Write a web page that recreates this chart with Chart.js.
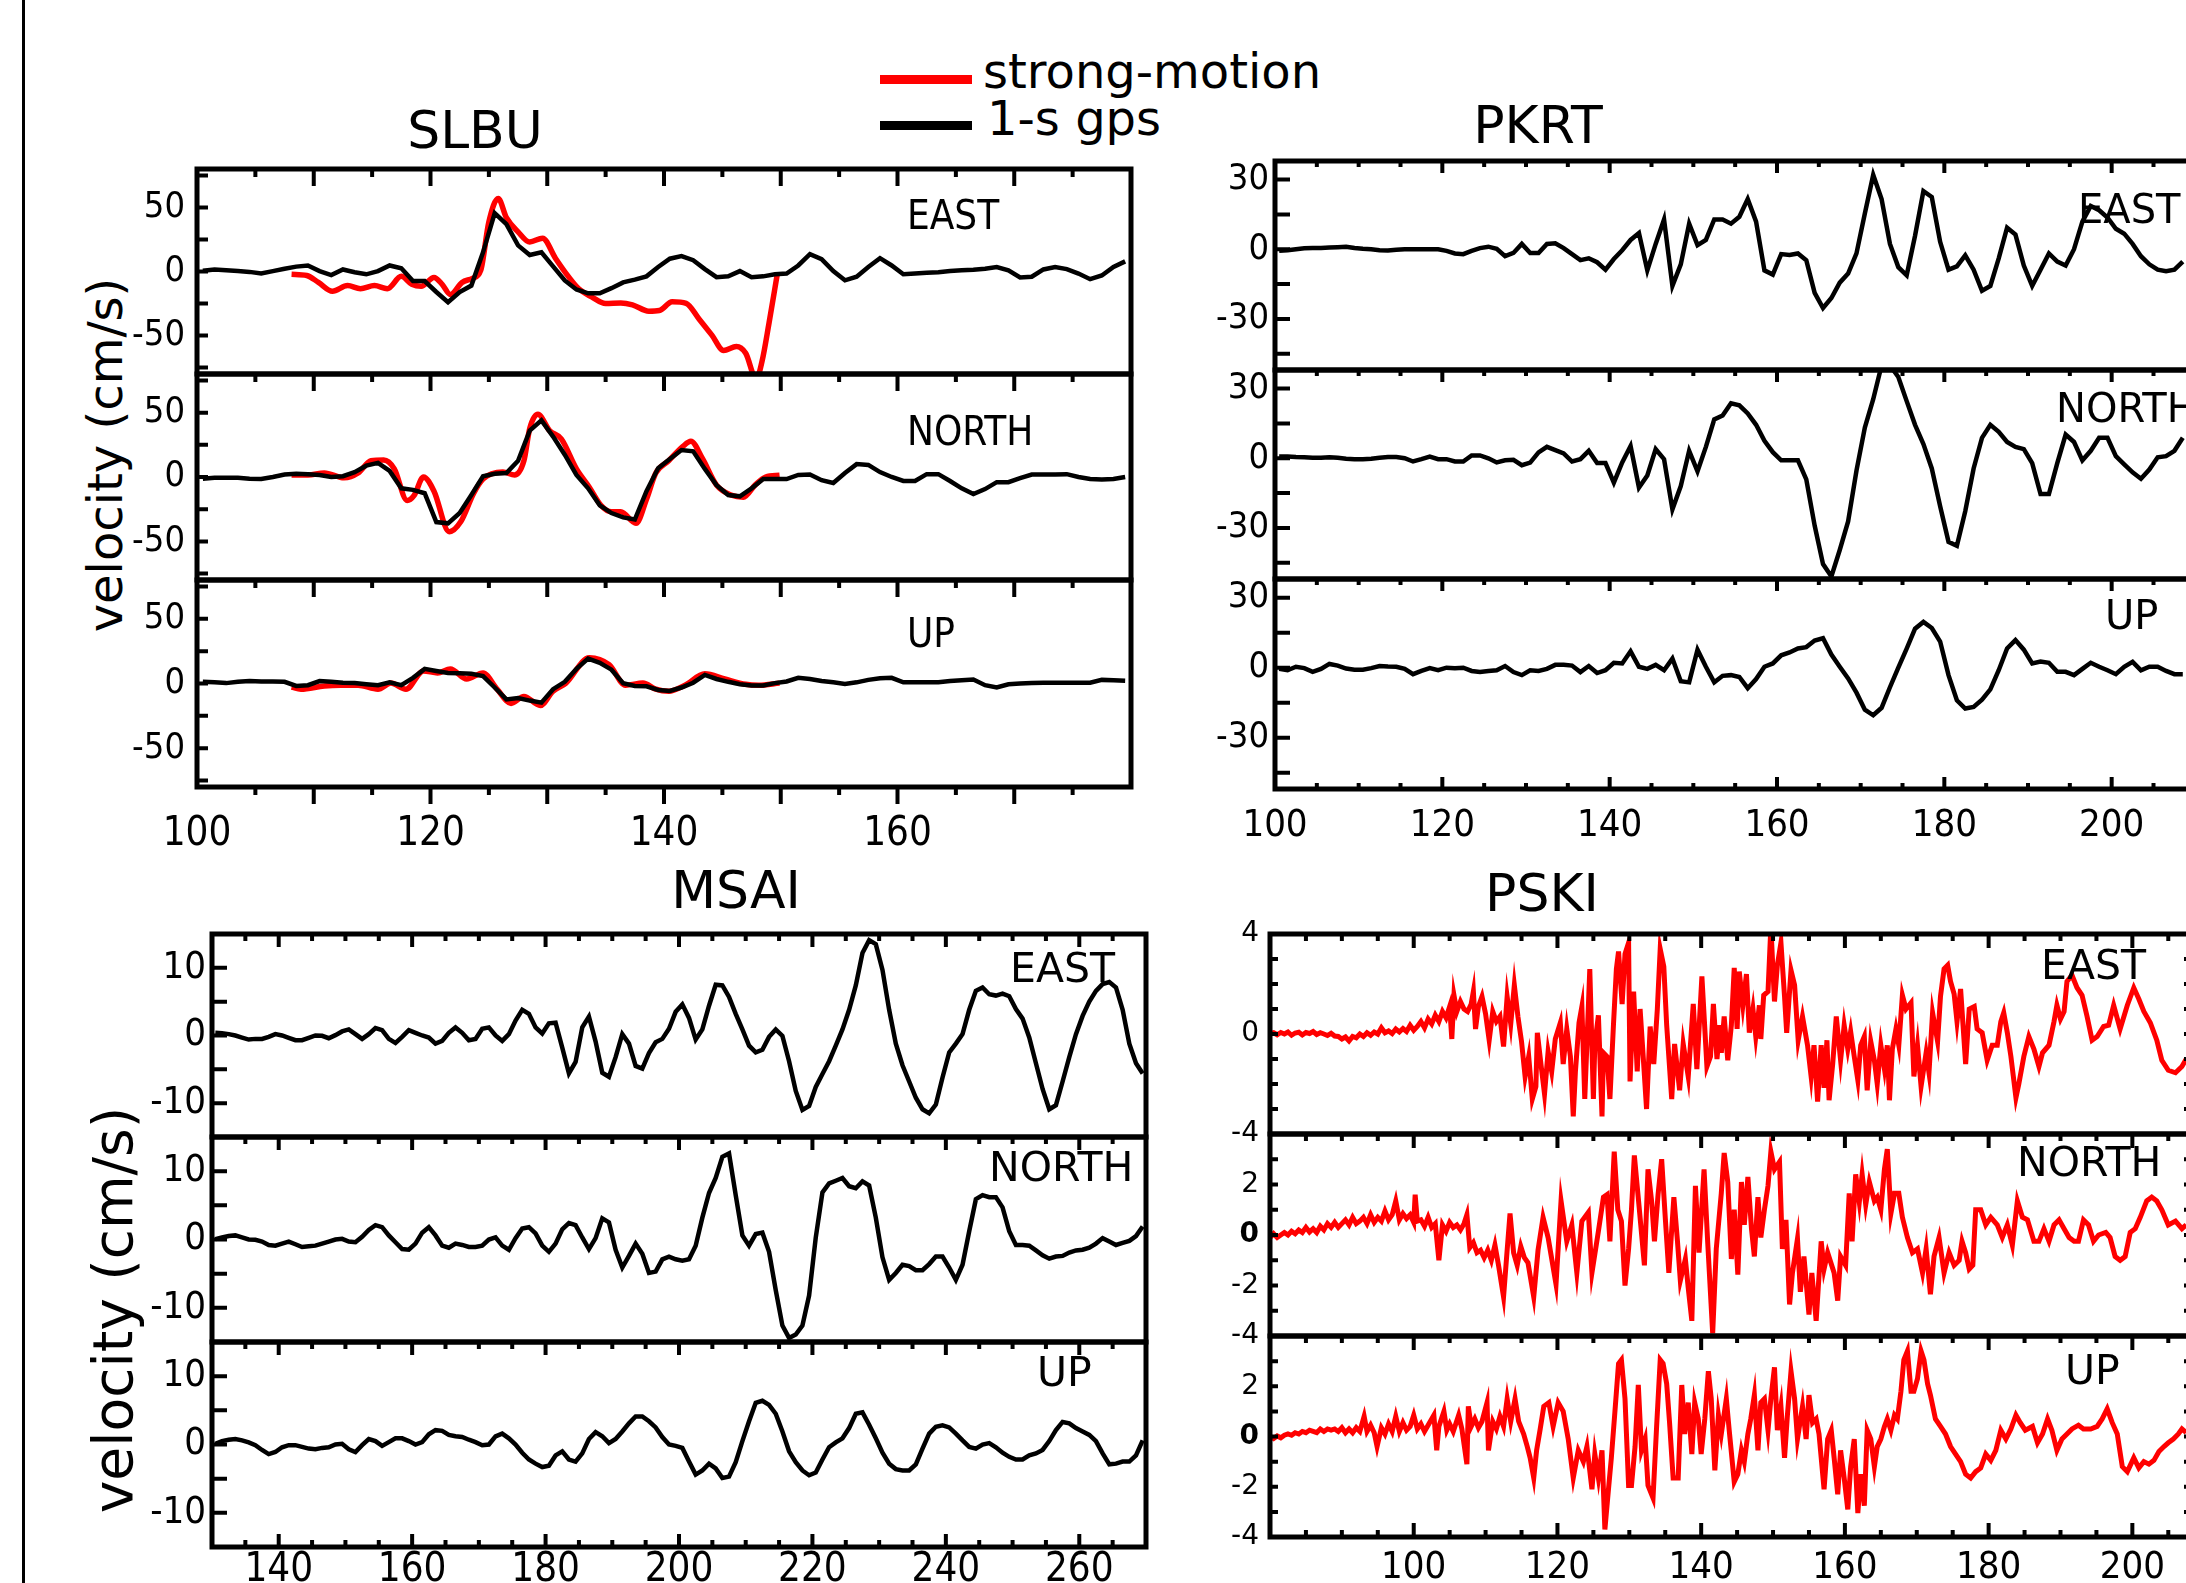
<!DOCTYPE html>
<html>
<head>
<meta charset="utf-8">
<title>1-s GPS vs strong-motion velocity</title>
<script src="https://cdn.jsdelivr.net/npm/chart.js@4.4.1/dist/chart.umd.min.js"></script>
<style>
  html, body { margin: 0; padding: 0; background: #fff; overflow: hidden; }
  #page { position: relative; width: 2186px; height: 1583px; overflow: hidden; background: #fff; }
  #page canvas { position: absolute; }
  .lbl { position: absolute; white-space: nowrap; color: #000; line-height: 1; font-family: "DejaVu Sans", sans-serif; }
  .key { position: absolute; height: 9px; }
</style>
</head>
<body>
<div id="page">
  <div style="position:absolute;left:22px;top:0;width:3px;height:1583px;background:#000"></div>
  <div class="key" style="left:880px;top:75px;width:92px;background:#ff0000"></div>
  <div class="key" style="left:880px;top:121px;width:92px;background:#000"></div>
  <div class="lbl" style="left:983px;top:71px;font-size:48px;transform:translateY(-50%)">strong-motion</div>
  <div class="lbl" style="left:987px;top:118px;font-size:48px;transform:translateY(-50%)">1-s gps</div>
  <div class="lbl" style="left:105px;top:455px;font-size:48px;transform:translate(-50%,-50%) rotate(-90deg)">velocity (cm/s)</div>
  <div class="lbl" style="left:113px;top:1310px;font-size:55px;transform:translate(-50%,-50%) rotate(-90deg)">velocity (cm/s)</div>
</div>
<script>
// ---------- data ----------
const components = ['EAST', 'NORTH', 'UP'];

// SLBU: 1-s GPS, first sample at 100.5 s
const slbuGpsT0 = 100.5;
const slbuGpsEast = [0.6, 1.6, 0.9, 0.3, -0.3, -1.6, 0.3, 2.2, 3.8, 4.7,
  0.3, -2.8, 1.6, -0.6, -2.2, 0.3, 4.7, 2.5, -7.5, -7.5,
  -16, -24, -16, -11, 15, 45.6, 37, 20.4, 12.9, 15,
  4, -7, -14, -17, -17, -13, -8.5, -6.3, -3.8, 3.5,
  10, 12, 8.8, 1.9, -4.4, -3.8, 0.3, -4.4, -3.8, -2.2,
  -1.6, 4.7, 13.5, 9.7, 0.3, -6.9, -4.1, 3.5, 10.4, 4.7,
  -2.2, -1.6, -0.9, -0.6, 0.3, 0.9, 1.3, 2.2, 3.5, 0.9,
  -4.7, -4.1, 1.6, 3.5, 1.9, -1.6, -6, -3.1, 3.5, 7.9];
const slbuGpsNorth = [-1.3, -0.6, -0.6, -0.6, -1.3, -1.6, 0, 1.9, 2.5, 2.2,
  1.6, 0, 0.6, 3.8, 8.8, 11, 4.7, -8.8, -10, -12.6,
  -35, -36, -28, -14, 0.6, 2.5, 3.1, 12.6, 36, 44,
  31.4, 17.3, 1.6, -8.8, -22, -28, -31.4, -33, -11, 6.9,
  14, 21, 20, 6.3, -6.3, -14, -15, -8.8, -1.6, -1.6,
  -1.6, 1.6, 1.9, -2.5, -4.7, 3.1, 10, 9.4, 3.8, 0,
  -3.1, -3.1, 2.2, 2.2, -3.1, -8.8, -13.2, -9.4, -4, -4,
  -0.9, 1.9, 1.9, 1.9, 2.2, 0, -1.6, -1.9, -1.6, 0];
const slbuGpsUp = [1.3, 0.9, 0.3, 1.3, 1.9, 1.6, 1.6, 1.3, -1.9, -1.3,
  1.9, 1.3, 0.6, 0.3, -0.6, -1.3, 0.9, -1.3, 4.4, 11.3,
  9.7, 8.2, 7.9, 7.5, 5.7, -3.1, -12.3, -11.3, -13.2, -14.8,
  -4.4, 1.3, 11.3, 19.2, 16, 10.7, 0.3, -1.9, -2.2, -5,
  -5.7, -3.1, 0.6, 6.6, 3.5, 1.3, -0.6, -1.6, -1.6, 0.3,
  1.6, 4.4, 3.5, 1.9, 0.9, -0.3, 0.9, 2.8, 4.1, 4.4,
  0.9, 0.9, 0.9, 0.9, 1.9, 2.5, 3.1, -1.3, -3.1, -0.6,
  0, 0.3, 0.6, 0.6, 0.6, 0.6, 0.6, 2.8, 2.5, 2.2];

// SLBU strong-motion: [time, velocity]
const slbuSmEast = [[108.1, -2.2], [109.4, -3.1], [110.4, -8.5], [111.6, -15.4], [112.9, -11], [114.0, -13.5],
  [115.2, -11], [116.3, -13.5], [117.5, -3.8], [118.4, -10], [119.2, -11.6], [120.3, -4.7], [121.0, -10],
  [121.7, -17.9], [122.7, -8.5], [123.6, -5.3], [124.3, 0.9], [125.0, 38.7], [125.8, 57], [126.5, 42],
  [127.5, 31], [128.5, 23], [129.6, 26], [130.7, 10.4], [131.8, -3.8], [132.7, -13.5], [133.8, -19.8],
  [135.0, -25], [136.3, -24.5], [137.3, -26], [138.7, -31], [139.6, -30.5], [140.7, -23.6], [141.9, -24.8],
  [143.0, -37], [144.1, -49.7], [145.1, -61.6], [146.2, -58.5], [147.0, -63.8], [147.9, -84], [148.4, -70],
  [149.0, -40], [149.7, -2.2]];
const slbuSmNorth = [[108.1, 1.6], [109.5, 1.6], [110.9, 3.1], [112.6, -0.6], [113.8, 3.1], [114.9, 12.6],
  [116.0, 13.2], [116.9, 6.3], [118.0, -18.2], [118.6, -14.2], [119.4, 0], [120.3, -11], [121.6, -42.5],
  [122.6, -34.6], [123.7, -12.6], [124.5, -1.6], [126.2, 3.8], [127.2, 1.6], [128.0, 12.6], [128.5, 37.7],
  [129.2, 48.7], [130.2, 36], [131.2, 29.6], [132.5, 6.3], [133.6, -7.9], [134.6, -22], [135.5, -27],
  [136.3, -27], [137.6, -36], [138.5, -17.3], [139.3, 3.1], [140.4, 12.6], [141.6, 23.6], [142.3, 27.7],
  [143.3, 14.2], [144.5, -6.3], [145.8, -14.2], [146.8, -15.7], [147.8, -6.3], [148.7, 0], [149.9, 1.3]];
const slbuSmUp = [[108.1, -2.8], [108.9, -4.4], [110.9, -1.9], [112.3, -1.3], [113.8, -1.3], [115.5, -4.4],
  [116.6, 0.3], [117.9, -4.4], [119.4, 9.7], [120.6, 8.2], [121.7, 11.3], [123.1, 3.5], [124.5, 8.2],
  [125.7, -4.4], [126.9, -15.4], [128.0, -10], [129.4, -17], [130.5, -6], [131.6, 0.3], [133.6, 20],
  [135.3, 14.5], [136.7, -1.3], [138.2, 0.3], [139.3, -4.4], [140.4, -6], [141.8, -1.3], [143.5, 7.5],
  [145.2, 3.5], [147.0, -0.6], [148.1, -1.3], [149.9, 0.3]];

// PKRT: 1-s GPS, first sample at 100.5 s
const pkrtT0 = 100.5;
const pkrtEast = [-0.7, -0.4, 0, 0.4, 0.5, 0.5, 0.7, 0.9, 1.1, 0.5,
  0.2, 0, -0.4, -0.5, -0.2, 0, 0, 0, 0, 0,
  -0.7, -1.8, -2.1, -0.7, 0.5, 1.1, 0.2, -3, -1.6, 2.3,
  -1.6, -1.6, 2.3, 2.6, 0.5, -2.1, -4.7, -3.9, -5.6, -8.8,
  -4.2, -0.4, 4, 7, -9.1, 2.3, 12.8, -15.8, -6.5, 11,
  1.8, 4, 12.8, 12.8,
  11, 14, 21.6, 11.9, -9.1, -10.9, -2.1, -2.5, -1.8, -4.7,
  -18.8, -25.3, -21, -14.4, -10.5, -1.8, 15.4, 32, 21.6, 2.3,
  -7.7, -11.2, 5.8, 25, 22.5, 3.2, -8.8, -7.4, -2.6, -8.8,
  -17.9, -15.8, -3.9, 9.3, 6.3, -7, -15.8, -8.8, -1.8, -5.3,
  -7, 0, 11.9, 18.6, 16.8, 13.7, 8.8, 6.7, 2.3, -3,
  -6.5, -8.8, -9.5, -8.8, -5.3];
const pkrtNorth = [0.7, 0.7, 0.5, 0.4, 0.2, 0.2, 0.4, 0.2, -0.2, -0.4,
  -0.4, -0.2, 0.2, 0.5, 0.5, 0, -1.4, -0.4, 0.7, -0.4,
  -0.4, -1.4, -1.4, 1.2, 1.2, 0, -1.8, -0.9, -0.7, -3,
  -1.9, 2.5, 4.9, 3.5, 2.1, -1.4, -0.4, 3.2, -2.1, -2.1,
  -10.5, -1.8, 5.3, -12.6, -7.4, 3.9, -0.4, -22, -12, 3.2,
  -5.6, 4.9, 16.7, 18.4,
  23.7, 22.8, 19.3, 14.4, 7.5, 2.6, -0.9, -0.9, -0.9, -9.1,
  -29, -45.6, -50.9, -39.5, -27.2, -5.3, 13.2, 25.4, 40, 40,
  35, 24.6, 14.4, 6.1, -4.4, -20.7, -36, -37.7, -22.8, -4.4,
  8.8, 14.4, 11.4, 7, 4.9, 3.9, -2.1, -15.4, -15.4, -2.1,
  10.2, 7, -0.9, 3.2, 8.8, 8.8, 0.9, -2.6, -6.1, -8.8,
  -4.9, 0.4, 0.9, 3.2, 8.8];
const pkrtUp = [-0.5, -1.1, 0.4, -0.2, -1.8, -0.5, 1.6, 0.9, -0.4, -0.9,
  -0.9, -0.2, 0.7, 0.5, 0.4, -0.5, -2.8, -1.4, -0.2, -1.1,
  0, -0.2, 0, -1.4, -1.8, -1.4, -1.1, 0.7, -1.9, -3.2,
  -1.1, -1.4, -0.5, 1.2, 1.2, 0.9, -1.9, 0.7, -2.3, -1.1,
  2.1, 1.8, 7, 0.4, -0.5, 1.2, -1.1, 3.9, -5.8, -6.3,
  7.7, 0.4, -6.3, -3.5,
  -3.2, -4, -8.8, -4.9, 0.4, 1.8, 5.3, 6.5, 8.2, 8.8,
  11.6, 12.6, 5.6, 0.4, -4.6, -10.7, -18, -20.4, -17.2, -8.4,
  0, 8.2, 16.7, 19.6, 17, 11.2, -3.2, -14, -17.5, -16.8,
  -13.7, -9.3, -1.1, 8.2, 11.8, 7.7, 1.8, 2.6, 2.1, -1.8,
  -1.8, -3.2, -0.5, 2.1, 0.4, -1.1, -2.8, 0.4, 2.5, -1.1,
  0.4, 0.4, -1.4, -2.8, -2.8];

// MSAI: 1-s GPS, first sample at 130.5 s
const msaiT0 = 130.5;
const msaiEast = [0.4, 0.35, 0.2, 0, -0.3, -0.6, -0.5, -0.5, -0.2, 0.2,
  0, -0.35, -0.7, -0.7, -0.35, 0, -0.05, -0.4, 0.05, 0.6,
  0.9, 0.2, -0.5, 0.2, 1.1, 0.8, -0.5, -1.1, -0.2, 0.8,
  0.4, 0, -0.3, -1.2, -0.8, 0.4, 1.2, 0.4, -0.7, -0.5,
  1, 1.2, 0, -0.8, 0.2, 2.2, 3.8, 3.2, 1.2, 0.3,
  1.8, 1.9, -1.8, -5.6, -3.9, 1.2, 2.8, -0.9, -5.5, -6.1,
  -3.2, 0.2, -1.2, -4.5, -4.9, -2.6, -1, -0.5, 1, 3.5,
  4.6, 2.6, -0.6, 0.9, 4.4, 7.5, 7.4, 5.7, 3.2, 0.9,
  -1.5, -2.5, -2.1, -0.2, 0.9, -0.05, -3.8, -8.2, -11, -10.4,
  -7.6, -5.7, -3.8, -1.5, 0.9, 3.8, 7.4, 12.2, 14.1, 13.5,
  9.7, 3.8, -1.2, -4.4, -6.8, -9.2, -10.9, -11.5, -10.2, -6.2,
  -2.5, -1.2, 0.2, 3.8, 6.6, 7.1, 6.1, 5.9, 6.2, 5.8,
  3.9, 2.5, -0.3, -4.1, -7.9, -10.9, -10.3, -6.8, -3.2, 0.2,
  2.9, 5, 6.6, 7.6, 7.9, 7.1, 3.8, -1.2, -4.1, -5.6];
const msaiNorth = [0.05, 0.3, 0.5, 0.6, 0.3, 0, -0.05, -0.3, -0.8, -0.9,
  -0.6, -0.3, -0.7, -1.1, -1, -0.9, -0.6, -0.3, 0, 0.1,
  -0.3, -0.4, 0.4, 1.4, 2.1, 1.8, 0.6, -0.4, -1.4, -1.5,
  -0.6, 1, 1.8, 0.6, -0.9, -1.2, -0.6, -0.8, -1.1, -1.1,
  -0.9, 0, 0.3, -0.9, -1.5, 0.2, 1.6, 1.8, 0.9, -0.9,
  -1.8, -0.6, 1.5, 2.4, 2.1, 0.3, -1.4, 0.2, 3.1, 2.5,
  -1.5, -4.1, -2.4, -0.6, -2.1, -4.9, -4.7, -2.9, -2.5, -2.9,
  -3.1, -2.9, -0.9, 3.2, 6.8, 9, 12.1, 12.6, 6.5, 0.6,
  -0.9, 0.8, 1, -1.8, -7.4, -12.6, -14.4, -13.9, -12.6, -8.2,
  0.3, 6.9, 8.2, 8.6, 9, 7.8, 7.5, 8.5, 7.9, 3.2,
  -2.6, -5.9, -4.9, -3.7, -3.9, -4.5, -4.5, -3.6, -2.5, -2.5,
  -4.1, -5.9, -3.7, 1.2, 5.9, 6.5, 6.2, 6.2, 4.7, 1.2,
  -0.8, -0.8, -0.9, -1.6, -2.3, -2.8, -2.5, -2.4, -1.9, -1.6,
  -1.5, -1.2, -0.6, 0.2, -0.3, -0.8, -0.5, -0.2, 0.5, 1.9];
const msaiUp = [0.1, 0.5, 0.7, 0.8, 0.6, 0.3, -0.1, -0.8, -1.4, -1.1,
  -0.4, -0.1, -0.1, -0.35, -0.6, -0.7, -0.5, -0.4, 0, 0.1,
  -0.7, -1.1, -0.1, 0.8, 0.5, -0.2, 0.35, 0.9, 0.9, 0.5,
  0, 0.35, 1.5, 2.1, 2, 1.4, 1.2, 1.1, 0.7, 0.35,
  -0.1, 0, 1.2, 1.6, 0.9, 0, -1.2, -2.2, -2.8, -3.3,
  -3.1, -1.6, -1, -2.2, -2.5, -1.3, 0.8, 1.8, 1.2, 0.2,
  0.8, 1.9, 3.1, 4.1, 4.1, 3.4, 2.5, 1.1, 0, -0.2,
  -0.5, -2.5, -4.4, -3.8, -2.8, -3.5, -4.9, -4.7, -2.6, 0.5,
  3.4, 6.1, 6.4, 5.8, 4.5, 1.9, -1, -2.6, -3.8, -4.5,
  -4.1, -2.2, -0.4, 0.3, 0.9, 2.4, 4.5, 4.7, 2.9, 0.9,
  -1.2, -2.8, -3.6, -3.8, -3.8, -2.9, -0.6, 1.6, 2.6, 2.8,
  2.5, 1.6, 0.6, -0.35, -0.6, 0, 0.2, -0.4, -1.2, -1.8,
  -2.2, -2.2, -1.6, -1.3, -0.8, 0.5, 2.1, 3.3, 3.1, 2.4,
  1.9, 1.4, 0.5, -1.3, -2.9, -2.8, -2.5, -2.5, -1.6, 0.6];

// PSKI strong-motion: [time, velocity]
const pskiEast = [[80, 0.02], [80.5, 0.05], [81, -0.03], [81.5, 0.06], [82, 0], [82.5, 0.08], [83, -0.05],
  [83.5, 0.04], [84, 0.07], [84.5, -0.04], [85, 0.06], [85.5, 0.02], [86, 0.1], [86.5, -0.02], [87, 0.05],
  [87.5, 0], [88, -0.06], [88.5, 0.03], [89, -0.08], [89.5, -0.1], [90, -0.2], [90.5, -0.12], [91, -0.28],
  [91.5, -0.1], [92, -0.15], [92.5, 0], [93, -0.1], [93.5, 0.05], [94, -0.05], [94.5, 0.08], [95, 0],
  [95.5, 0.25], [96, 0.05], [96.5, 0.12], [97, 0.02], [97.5, 0.2], [98, 0.08], [98.5, 0.22], [99, 0.1],
  [99.5, 0.35], [100, 0.15], [100.5, 0.3], [101, 0.5], [101.5, 0.25], [102, 0.6], [102.5, 0.4], [103, 0.75],
  [103.5, 0.5], [104, 0.9], [104.5, 0.65], [105, 1.1], [105.3, -0.2], [105.6, 1.55], [106, 0.9], [106.5, 1.3],
  [107, 1.0], [107.5, 0.9], [108, 1.2], [108.3, 1.7], [108.6, 0.2], [109, 1.1], [109.5, 1.5], [110, 0.8],
  [110.5, -0.25], [111, 0.9], [111.5, 0.5], [112, 0.7], [112.5, -0.5], [113, 1.5], [113.5, 0.4], [114, 1.95],
  [114.5, 0.7], [115, -0.3], [115.5, -1.7], [116, -0.9], [116.5, -2.6], [117, -2.1], [117.2, 0.05],
  [117.7, -1.2], [118.2, -2.4], [118.7, -0.7], [119.2, -1.5], [119.7, -0.2], [120.4, 0.45], [120.8, -1.2],
  [121.3, 0.2], [121.8, -0.9], [122.2, -3.3], [122.5, -1.5], [123, 0.45], [123.4, 1.1], [123.8, -2.6],
  [124.1, -0.4], [124.5, 2.6], [125, -2.6], [125.2, -0.4], [125.7, 0.75], [126.2, -3.3], [126.4, -0.75],
  [126.9, -0.9], [127.3, -2.6], [127.8, 0.4], [128.2, 2.6], [128.5, 3.3], [129, 1.2], [129.4, 3.2],
  [129.9, 3.65], [130.1, -1.9], [130.6, 1.7], [131.1, -1.5], [131.5, 1.0], [132, -1.2], [132.4, -3.0],
  [132.9, 0.3], [133.4, -1.2], [133.9, 1.0], [134.3, 3.4], [134.8, 2.7], [135.2, 0.35], [135.9, -2.6],
  [136.3, -0.4], [137, -2.25], [137.5, -0.4], [138.2, -1.7], [138.9, 1.2], [139.4, -1.4], [140.1, 2.3],
  [140.8, -1.3], [141.3, -0.9], [141.7, 1.2], [142.2, -1.0], [142.6, 0.35], [142.8, -0.75], [143.2, 0.7],
  [143.7, -1.05], [144.2, 0.35], [144.6, 2.65], [145.0, 0.2], [145.3, 2.5], [145.8, 1.15], [146.3, 2.4],
  [146.7, 0.05], [147.2, 1.0], [147.6, -0.1], [148.1, 1.15], [148.3, -0.2], [148.7, 1.55], [149.3, 1.7],
  [149.7, 4.3], [150.2, 1.3], [150.6, 2.75], [151.1, 3.65], [151.6, 1.5], [151.9, 0.05], [152.5, 2.55],
  [153.0, 1.95], [153.5, -0.25], [154.1, 0.7], [154.8, -0.45], [155.3, -1.7], [155.7, -0.45], [156.2, -2.7],
  [156.7, -0.45], [157.1, -2.15], [157.5, -0.25], [157.8, -2.65], [158.3, -1.2], [158.8, 0.7], [159.4, -1.05],
  [159.9, 0.35], [160.4, -0.6], [160.8, 0.1], [161.3, -0.9], [161.8, -1.85], [162.2, -0.45], [162.7, -0.1],
  [163.1, -2.25], [163.6, -0.3], [164.1, -1.05], [164.5, -2.0], [165.0, -0.45], [165.5, -1.4], [165.9, -0.45],
  [166.2, -2.65], [166.6, -0.6], [167.1, 0.2], [167.5, -0.45], [168.0, 1.55], [168.5, 1.0], [169.2, 1.25],
  [169.6, -1.7], [170.1, -0.45], [170.6, -2.1], [171.3, -0.75], [171.7, -1.55], [172.2, 0.85], [172.9, -0.3],
  [173.3, 1.5], [173.8, 2.6], [174.3, 2.75], [174.7, 2.1], [175.2, 1.6], [175.6, 0.5], [176.1, 1.8],
  [176.8, -1.2], [177.3, 1.0], [178.0, 1.1], [178.4, 0.2], [179.1, 0.05], [179.8, -1.05], [180.5, -0.45],
  [181.2, -0.45], [181.7, 0.5], [182.1, 0.85], [182.6, 0.05], [183.1, -0.9], [183.8, -2.55], [184.2, -2.0],
  [184.9, -0.9], [185.6, -0.1], [186.3, -0.6], [187.0, -1.3], [187.5, -0.75], [188.4, -0.45], [189.1, 0.5],
  [189.5, 1.15], [190.0, 0.6], [190.5, 0.9], [190.9, 2.1], [191.6, 2.35], [192.3, 1.85], [193.0, 1.55],
  [193.7, 0.7], [194.4, -0.25], [195.1, -0.1], [196.0, 0.3], [196.7, 0.35], [197.4, 1.15], [198.3, 0.2],
  [199.3, 1.15], [200.2, 1.85], [200.9, 1.4], [201.6, 0.9], [202.5, 0.45], [203.4, -0.25], [204.1, -1.05],
  [205.0, -1.45], [206.0, -1.55], [206.9, -1.3], [207.5, -1.0]];
const pskiNorth = [[80, -0.1], [80.5, 0.05], [81, -0.1], [81.5, 0], [82, 0.1], [82.5, 0], [83, 0.15],
  [83.5, 0.05], [84, 0.2], [84.5, 0.1], [85, 0.3], [85.5, 0.12], [86, 0.25], [86.5, 0.1], [87, 0.35],
  [87.5, 0.2], [88, 0.45], [88.5, 0.3], [89, 0.5], [89.5, 0.3], [90, 0.45], [90.5, 0.6], [91, 0.4],
  [91.5, 0.7], [92, 0.45], [92.5, 0.55], [93, 0.7], [93.5, 0.45], [94, 0.8], [94.5, 0.5], [95, 0.7],
  [95.5, 0.55], [96, 0.95], [96.5, 0.6], [97, 0.8], [97.5, 1.35], [98, 0.6], [98.5, 0.85], [99, 0.65],
  [99.5, 0.8], [100, 0.5], [100.2, 1.6], [100.5, 0.55], [101, 0.6], [101.5, 0.35], [102, 0.7], [102.5, 0.3],
  [103, 0.45], [103.5, -1.0], [104, 0.4], [104.5, 0.15], [105, 0.5], [105.5, 0.3], [106, 0.4], [106.5, 0.2],
  [107, 0.45], [107.4, 0.8], [107.8, -0.5], [108.3, -0.3], [108.8, -0.7], [109.3, -0.6], [109.8, -0.9],
  [110.3, -0.6], [110.8, -1.0], [111.3, -0.4], [111.8, -1.2], [112.5, -2.45], [113, -0.6], [113.4, 0.85],
  [113.9, -0.7], [114.4, -1.2], [114.9, -0.45], [115.4, -0.9], [115.9, -1.1], [116.7, -2.45], [117.3, -0.6],
  [118.0, 0.7], [118.7, -0.1], [119.8, -1.95], [120.5, 1.35], [121.3, -0.25], [122, 0.4], [122.7, -1.5],
  [123.4, 0.55], [124.3, 0.9], [124.8, -1.5], [125.7, 0.15], [126.4, 1.5], [126.9, 1.6], [127.3, -0.25],
  [127.9, 3.3], [128.4, 1.0], [128.9, 0.55], [129.4, -2.0], [129.9, -0.55], [130.3, 1.0], [130.7, 3.15],
  [131.4, 1.0], [132.1, -1.2], [132.6, 2.6], [133.1, 1.35], [133.5, -0.25], [134, 1.6], [134.5, 3.0],
  [135.0, 0.7], [135.5, -1.5], [136.2, 1.5], [136.7, -0.25], [137.1, -1.8], [137.8, -0.95], [138.2, -2.1],
  [138.7, -3.4], [139.2, 1.95], [139.7, -0.7], [140.4, 2.6], [140.9, -0.25], [141.6, -3.9], [142.1, -0.55],
  [142.8, 1.65], [143.2, 3.25], [143.7, 2.1], [144.2, -0.95], [144.6, 1.0], [145.1, -1.57], [145.6, 2.1],
  [146.0, 0.4], [146.5, 2.3], [147.0, 0.25], [147.4, -0.85], [147.9, 1.5], [148.3, -0.1], [148.8, 1.0],
  [149.3, 1.95], [149.7, 3.3], [150.2, 2.6], [150.9, 2.9], [151.3, -0.55], [151.8, 0.6], [152.3, -2.75],
  [152.7, -1.5], [153.4, -0.15], [153.8, -2.25], [154.3, -0.85], [155.0, -3.15], [155.4, -1.5], [156.0, -3.4],
  [156.7, -0.25], [157.1, -1.35], [157.6, -0.7], [158.5, -1.5], [159.0, -2.6], [159.4, -0.85], [160.1, -1.2],
  [160.6, 1.65], [161.0, -0.25], [161.5, 2.4], [162.0, 1.3], [162.4, 2.4], [162.9, 1.2], [163.4, 2.1],
  [164.1, 1.35], [164.5, 1.5], [165.0, 1.0], [165.5, 2.6], [165.9, 3.4], [166.4, 0.85], [166.9, 1.65],
  [167.5, 1.65], [168.0, 0.7], [168.7, -0.1], [169.4, -0.7], [170.1, -0.55], [170.8, -1.5], [171.3, -0.55],
  [171.9, -2.35], [172.4, -0.85], [173.1, -0.1], [173.8, -1.5], [174.5, -0.7], [175.2, -1.2], [175.9, -1.0],
  [176.3, -0.25], [176.8, -0.7], [177.3, -1.35], [177.8, -1.2], [178.2, 1.0], [178.9, 1.0], [179.6, 0.4],
  [180.3, 0.7], [181.2, 0.4], [181.9, -0.1], [182.6, 0.4], [183.3, -0.4], [184.0, 1.35], [184.7, 0.7],
  [185.4, 0.6], [186.3, -0.25], [187.0, -0.25], [187.7, 0.25], [188.4, -0.25], [189.1, 0.4], [189.8, 0.6],
  [190.5, 0.25], [191.2, -0.1], [191.9, -0.25], [192.5, -0.25], [193.2, 0.6], [193.9, 0.4], [194.6, -0.25],
  [195.3, 0], [196.3, 0.1], [196.9, -0.1], [197.6, -0.85], [198.3, -1.0], [199.0, -0.85], [199.7, 0.1],
  [200.4, 0.25], [201.1, 0.7], [202.0, 1.35], [202.7, 1.5], [203.4, 1.35], [204.1, 1.0], [205.0, 0.4],
  [206.0, 0.55], [206.9, 0.25], [207.5, 0.4]];
const pskiUp = [[80, 0], [80.5, -0.08], [81, 0.02], [81.5, -0.05], [82, 0.05], [82.5, 0.1], [83, 0.05],
  [83.5, 0.15], [84, 0.1], [84.5, 0.2], [85, 0.15], [85.5, 0.25], [86, 0.2], [86.5, 0.15], [87, 0.3],
  [87.5, 0.2], [88, 0.3], [88.5, 0.25], [89, 0.3], [89.5, 0.2], [90, 0.35], [90.5, 0.15], [91, 0.3],
  [91.5, 0.15], [92, 0.35], [92.5, 0.2], [93.1, 0.8], [93.5, 0.2], [94, 0.45], [94.5, 0.15], [94.9, -0.4],
  [95.5, 0.35], [96, 0.1], [96.5, 0.5], [97, 0.2], [97.5, 0.8], [98, 0.2], [98.5, 0.55], [99, 0.25],
  [99.5, 0.4], [100, 0.85], [100.5, 0.3], [101, 0.5], [101.5, 0.2], [102, 0.45], [102.8, 0.85], [103.2, -0.55],
  [103.5, 0.4], [104.2, 1.0], [104.6, 0.25], [105, 0.5], [105.5, 0.2], [106.25, 0.85], [106.7, 0.3],
  [107.4, -1.1], [107.6, 1.2], [108, 0.4], [108.5, 0.7], [109, 0.35], [109.5, 0.6], [110.2, 1.35],
  [110.4, -0.55], [111, 0.6], [111.5, 0.3], [112, 0.8], [112.5, 0.4], [113, 1.5], [113.5, 0.6], [114.1, 1.5],
  [114.6, 0.6], [115.3, 0.1], [115.8, -0.4], [116.2, -0.85], [116.7, -1.65], [117.1, -0.55], [117.6, 0.3],
  [118.1, 1.2], [118.8, 1.35], [119.4, 0.4], [120.1, 1.35], [120.8, 1.0], [121.5, -0.1], [122.2, -1.65],
  [122.9, -0.55], [123.6, -1.0], [124.1, -0.4], [124.8, -2.1], [125.2, -0.7], [125.7, -1.65], [126.2, -0.55],
  [126.6, -3.7], [127.1, -2.1], [127.5, -0.85], [128.0, 1.0], [128.5, 2.9], [128.9, 3.05], [129.4, 1.5],
  [129.9, -1.95], [130.3, -1.95], [130.8, -0.4], [131.25, 2.05], [131.7, -0.55], [132.2, -0.1], [132.6, -1.95],
  [133.3, -2.45], [133.8, 0.4], [134.3, 3.05], [134.7, 2.9], [135.2, 2.1], [135.6, 0.55], [136.1, -1.65],
  [136.8, -1.65], [137.3, 2.05], [137.7, 0.1], [138.2, 1.35], [138.7, -0.7], [139.1, 1.35], [139.6, 0.7],
  [140.0, -0.7], [140.5, 0.7], [141.0, 2.6], [141.4, 1.5], [141.9, -1.35], [142.4, 0.85], [142.8, 0.1],
  [143.5, 1.5], [143.9, 0.25], [144.6, -1.8], [145.1, -1.5], [145.6, -0.55], [146.0, -1.0], [146.5, 0.1],
  [146.9, 0.7], [147.4, 1.65], [147.9, -0.55], [148.3, 1.35], [148.8, 1.5], [149.3, 0.25], [149.7, 1.5],
  [150.2, 2.75], [150.6, 0.25], [151.1, 1.2], [151.6, -0.85], [152.0, 0.85], [152.5, 2.6], [153.0, 1.5],
  [153.4, -0.1], [154.1, 1.2], [154.6, -0.1], [155.0, 1.65], [155.5, 0.55], [156.0, 0.7], [156.4, 0.1],
  [157.1, -2.1], [157.6, -0.1], [158.1, 0.25], [158.5, -0.85], [159.0, -2.3], [159.4, -0.55], [159.9, -1.65],
  [160.4, -2.9], [160.8, -1.2], [161.3, -0.1], [161.8, -3.05], [162.2, -1.5], [162.7, -2.75], [163.1, 0.25],
  [163.6, -0.1], [164.1, -1.2], [164.5, -0.4], [165.0, -0.1], [165.5, 0.4], [165.9, 0.7], [166.4, 0.25],
  [166.9, 0.85], [167.3, 0.7], [167.8, 1.8], [168.2, 3.05], [168.7, 3.4], [169.2, 1.8], [169.6, 1.8],
  [170.1, 2.3], [170.6, 3.4], [171.0, 3.05], [171.5, 2.1], [171.9, 1.65], [172.6, 0.7], [173.3, 0.4],
  [174.0, 0.1], [174.7, -0.4], [175.4, -0.7], [176.1, -1.0], [176.8, -1.5], [177.5, -1.65], [178.2, -1.4],
  [178.9, -1.25], [179.6, -0.7], [180.3, -0.95], [181.0, -0.55], [181.7, 0.25], [182.4, -0.1], [183.1, 0.3],
  [183.8, 0.85], [184.4, 0.55], [185.1, 0.25], [186.1, 0.4], [186.8, -0.25], [187.5, 0.1], [188.2, 0.7],
  [188.8, 0.25], [189.5, -0.55], [190.2, -0.1], [190.9, 0.1], [191.6, 0.3], [192.5, 0.45], [193.2, 0.3],
  [194.2, 0.3], [195.1, 0.4], [195.8, 0.7], [196.5, 1.1], [197.2, 0.55], [197.9, 0.1], [198.6, -1.2],
  [199.3, -1.4], [200.2, -0.85], [200.9, -1.25], [201.6, -1.0], [202.3, -1.1], [203.0, -0.95], [203.7, -0.6],
  [204.4, -0.4], [205.0, -0.25], [205.7, -0.1], [206.4, 0.1], [206.9, 0.3], [207.5, 0.15]];

// tick labels
const slbuXLabels = [100, 120, 140, 160];
const slbuYLabels = [-50, 0, 50];
const pkrtXLabels = [100, 120, 140, 160, 180, 200];
const pkrtYLabels = [-30, 0, 30];
const msaiXLabels = [140, 160, 180, 200, 220, 240, 260];
const msaiYLabels = [-10, 0, 10];
const pskiXLabels = [100, 120, 140, 160, 180, 200];
const pskiYLabelsEast = [-4, 0, 4];
const pskiYLabels = [-4, -2, 0, 2];

// ---------- helpers ----------
const COND = "'DejaVu Sans Condensed', 'Liberation Sans Narrow', 'DejaVu Sans', sans-serif";
const NARROW = "'Liberation Sans Narrow', 'DejaVu Sans Condensed', 'DejaVu Sans', sans-serif";
const SANS = "'DejaVu Sans', sans-serif";
const page = document.getElementById('page');

function gps(t0, vals) { return vals.map((v, i) => ({x: t0 + i, y: v})); }
function pts(pairs) { return pairs.map(p => ({x: p[0], y: p[1]})); }
function blackLine(data) {
  return {data, borderColor: '#000', borderWidth: 4.5, pointRadius: 0, tension: 0, order: 0};
}
function redLine(data, smooth) {
  return {data, borderColor: '#ff0000', borderWidth: smooth ? 5.5 : 5, pointRadius: 0, order: 1,
    tension: smooth ? 0.4 : 0, cubicInterpolationMode: smooth ? 'monotone' : 'default'};
}

// frame box + inward ticks, placed with the chart's own scales
const framePlugin = {
  id: 'frame',
  afterDatasetsDraw(chart, args, o) {
    const {ctx, chartArea: a} = chart;
    const xs = chart.scales.x, ys = chart.scales.y;
    ctx.save();
    ctx.strokeStyle = '#000';
    ctx.lineWidth = o.tickWidth;
    ctx.beginPath();
    for (let v = Math.ceil(xs.min / o.xMinor) * o.xMinor; v < xs.max; v += o.xMinor) {
      const px = xs.getPixelForValue(v);
      if (px - a.left < 3) continue;
      const len = v % o.xMajor === 0 ? o.xLong : o.xShort;
      ctx.moveTo(px, a.top); ctx.lineTo(px, a.top + len);
      if (o.bottom) {
        const dir = o.bottom === 'out' ? 1 : -1;
        ctx.moveTo(px, a.bottom); ctx.lineTo(px, a.bottom + dir * len);
      }
    }
    for (let v = Math.ceil(ys.min / o.yMinor) * o.yMinor; v < ys.max; v += o.yMinor) {
      const py = ys.getPixelForValue(v);
      if (py - a.top < 3 || a.bottom - py < 3) continue;
      ctx.moveTo(a.left, py); ctx.lineTo(a.left + o.yLen, py);
      if (o.right) { ctx.moveTo(a.right, py); ctx.lineTo(a.right - o.yLen, py); }
    }
    ctx.stroke();
    ctx.lineWidth = o.frameWidth;
    ctx.strokeRect(a.left, a.top, a.right - a.left, a.bottom - a.top);
    ctx.restore();
  }
};

const stations = [
  {
    name: 'SLBU', title: [475, 130],
    left: 197, right: 1131, edges: [169, 374, 580, 787],
    xRange: [100, 180], yRange: [-80, 80],
    xLabels: slbuXLabels, yLabels: [slbuYLabels, slbuYLabels, slbuYLabels],
    xFont: {family: COND, size: 40}, yFont: {family: COND, size: 36}, boldZero: false,
    xPad: 24, yPad: 12, padB: 80,
    frame: {xMinor: 5, xMajor: 10, yMinor: 25, xLong: 17, xShort: 8, yLen: 11, bottom: 'out', right: false, tickWidth: 4, frameWidth: 5},
    comp: {font: NARROW, size: 40, pos: [[907, 215], [907, 431], [907, 633]]},
    sets: [
      [blackLine(gps(slbuGpsT0, slbuGpsEast)), redLine(pts(slbuSmEast), true)],
      [blackLine(gps(slbuGpsT0, slbuGpsNorth)), redLine(pts(slbuSmNorth), true)],
      [blackLine(gps(slbuGpsT0, slbuGpsUp)), redLine(pts(slbuSmUp), true)]
    ]
  },
  {
    name: 'PKRT', title: [1538, 125],
    left: 1275, right: 2279, edges: [161, 370, 579, 789],
    xRange: [100, 220], yRange: [-52, 38],
    xLabels: pkrtXLabels, yLabels: [pkrtYLabels, pkrtYLabels, pkrtYLabels],
    xFont: {family: COND, size: 38}, yFont: {family: COND, size: 36}, boldZero: false,
    xPad: 14, yPad: 6, padB: 70,
    frame: {xMinor: 5, xMajor: 20, yMinor: 15, xLong: 12, xShort: 6, yLen: 15, bottom: 'in', right: false, tickWidth: 4, frameWidth: 5},
    comp: {font: SANS, size: 40, pos: [[2078, 209], [2056, 408], [2105, 615]]},
    sets: [
      [blackLine(gps(pkrtT0, pkrtEast))],
      [blackLine(gps(pkrtT0, pkrtNorth))],
      [blackLine(gps(pkrtT0, pkrtUp))]
    ]
  },
  {
    name: 'MSAI', title: [736, 890],
    left: 212, right: 1146, edges: [934, 1137, 1342, 1547],
    xRange: [130, 270], yRange: [-15, 15],
    xLabels: msaiXLabels, yLabels: [msaiYLabels, msaiYLabels, msaiYLabels],
    xFont: {family: COND, size: 40}, yFont: {family: COND, size: 38}, boldZero: false,
    xPad: 0, yPad: 6, padB: 50,
    frame: {xMinor: 5, xMajor: 20, yMinor: 5, xLong: 13, xShort: 7, yLen: 15, bottom: 'in', right: false, tickWidth: 4, frameWidth: 5},
    comp: {font: SANS, size: 41, pos: [[1010, 968], [989, 1167], [1037, 1372]]},
    sets: [
      [blackLine(gps(msaiT0, msaiEast))],
      [blackLine(gps(msaiT0, msaiNorth))],
      [blackLine(gps(msaiT0, msaiUp))]
    ]
  },
  {
    name: 'PSKI', title: [1542, 893],
    left: 1270, right: 2192, edges: [934, 1134, 1336, 1537],
    xRange: [80, 208.3], yRange: [-4, 4],
    xLabels: pskiXLabels, yLabels: [pskiYLabelsEast, pskiYLabels, pskiYLabels],
    xFont: {family: COND, size: 38}, yFont: {family: SANS, size: 28}, boldZero: true,
    xPad: 8, yPad: 11, padB: 50,
    frame: {xMinor: 5, xMajor: 20, yMinor: 1, xLong: 14, xShort: 7, yLen: 8, bottom: 'in', right: true, tickWidth: 4, frameWidth: 5},
    comp: {font: SANS, size: 41, pos: [[2041, 965], [2017, 1162], [2065, 1370]]},
    sets: [
      [redLine(pts(pskiEast), false)],
      [redLine(pts(pskiNorth), false)],
      [redLine(pts(pskiUp), false)]
    ]
  }
];

function addText(text, x, y, font, size, transform) {
  const d = document.createElement('div');
  d.className = 'lbl';
  d.textContent = text;
  d.style.left = x + 'px';
  d.style.top = y + 'px';
  d.style.fontFamily = font;
  d.style.fontSize = size + 'px';
  d.style.transform = transform;
  page.appendChild(d);
}

function drawStation(st) {
  addText(st.name, st.title[0], st.title[1], SANS, 52, 'translate(-50%, -50%)');
  for (let i = 0; i < 3; i++) {
    const top = st.edges[i], bottom = st.edges[i + 1], last = i === 2;
    // room around the plot area; larger than the y labels' own padding so the chart area is not shrunk
    const padL = 90, padT = 44, padR = 32, padB = last ? st.padB : 44;
    const w = st.right - st.left + padL + padR;
    const h = bottom - top + padT + padB;
    const cv = document.createElement('canvas');
    cv.width = w; cv.height = h;
    cv.style.left = (st.left - padL) + 'px';
    cv.style.top = (top - padT) + 'px';
    page.appendChild(cv);
    const yLabels = st.yLabels[i];
    const boldZero = st.boldZero && i > 0;
    const xScale = {
      type: 'linear', min: st.xRange[0], max: st.xRange[1], display: last,
      grid: {display: false, drawTicks: false}, border: {display: false},
      afterBuildTicks: s => { s.ticks = st.xLabels.map(v => ({value: v})); },
      ticks: {color: '#000', font: st.xFont, padding: st.xPad, maxRotation: 0, minRotation: 0,
        autoSkip: false, callback: v => String(v)}
    };
    if (last) xScale.afterFit = s => { s.height = padB; };
    new Chart(cv, {
      type: 'line',
      data: {datasets: st.sets[i]},
      options: {
        responsive: false, animation: false, events: [],
        layout: {padding: {left: 0, top: padT, right: padR, bottom: last ? 0 : padB}},
        plugins: {
          legend: {display: false}, tooltip: {enabled: false},
          frame: Object.assign({}, st.frame, {bottom: last ? st.frame.bottom : null})
        },
        scales: {
          x: xScale,
          y: {
            type: 'linear', min: st.yRange[0], max: st.yRange[1],
            grid: {display: false, drawTicks: false}, border: {display: false},
            afterBuildTicks: s => { s.ticks = yLabels.map(v => ({value: v})); },
            afterFit: s => { s.width = padL; },
            ticks: {color: '#000', padding: st.yPad, autoSkip: false, callback: v => String(v),
              font: ctx => Object.assign({}, st.yFont,
                {weight: boldZero && ctx.tick && ctx.tick.value === 0 ? 'bold' : 'normal'})}
          }
        }
      },
      plugins: [framePlugin]
    });
    const c = st.comp.pos[i];
    addText(components[i], c[0], c[1], st.comp.font, st.comp.size, 'translateY(-50%)');
  }
}

stations.forEach(drawStation);
</script>
</body>
</html>
